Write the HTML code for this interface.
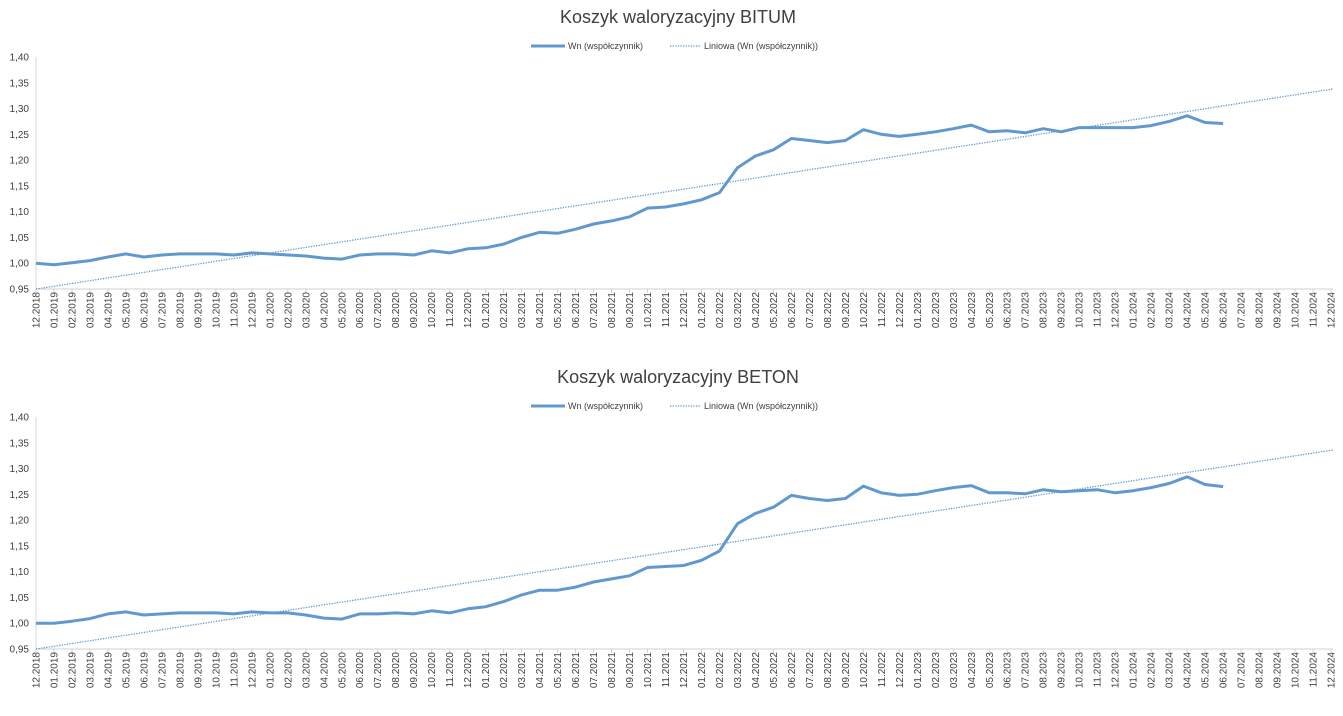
<!DOCTYPE html>
<html><head><meta charset="utf-8"><style>
html,body{margin:0;padding:0;background:#fff;width:1343px;height:716px;overflow:hidden}
svg{font-family:"Liberation Sans",sans-serif}
</style></head><body>
<svg id="s" width="1343" height="716" xmlns="http://www.w3.org/2000/svg"></svg>
<script>
const A=[1.000,0.997,1.001,1.005,1.012,1.018,1.012,1.016,1.018,1.018,1.018,1.016,1.020,1.018,1.016,1.014,1.010,1.008,1.016,1.018,1.018,1.016,1.024,1.020,1.028,1.030,1.037,1.050,1.060,1.058,1.066,1.076,1.082,1.090,1.107,1.109,1.115,1.123,1.137,1.185,1.208,1.220,1.242,1.238,1.234,1.238,1.259,1.250,1.246,1.250,1.255,1.261,1.268,1.255,1.257,1.253,1.261,1.255,1.263,1.263,1.263,1.263,1.267,1.275,1.286,1.273,1.271];
const B=[1.000,1.000,1.004,1.009,1.018,1.022,1.016,1.018,1.020,1.020,1.020,1.018,1.022,1.020,1.020,1.016,1.010,1.008,1.018,1.018,1.020,1.018,1.024,1.020,1.028,1.032,1.042,1.055,1.064,1.064,1.070,1.080,1.086,1.092,1.108,1.110,1.112,1.122,1.140,1.193,1.213,1.225,1.248,1.242,1.238,1.242,1.266,1.253,1.248,1.250,1.257,1.263,1.267,1.253,1.253,1.251,1.259,1.255,1.257,1.259,1.253,1.257,1.263,1.271,1.284,1.269,1.265];
let h='';
const C='#6199CE';
function chart(oy,title,d,tEnd){
 const X=i=>36+i*17.986, Y=v=>oy+57+(1.40-v)/0.45*232;
 h+=`<text x="678" y="${oy+23}" font-size="18" fill="#404040" text-anchor="middle">${title}</text>`;
 h+=`<line x1="531" y1="${oy+46}" x2="565" y2="${oy+46}" stroke="${C}" stroke-width="3"/>`;
 h+=`<text x="568" y="${oy+49}" font-size="9" fill="#404040">Wn (współczynnik)</text>`;
 h+=`<line x1="670" y1="${oy+46}" x2="701" y2="${oy+46}" stroke="${C}" stroke-width="1.3" stroke-dasharray="1.3 1.3"/>`;
 h+=`<text x="704" y="${oy+49}" font-size="9" fill="#404040">Liniowa (Wn (współczynnik))</text>`;
 for(let k=0;k<10;k++){const v=0.95+k*0.05;h+=`<text x="29" y="${Y(v)+3.5}" font-size="10" fill="#404040" text-anchor="end">${v.toFixed(2).replace('.',',')}</text>`;}
 h+=`<line x1="36" y1="${Y(1.4)}" x2="36" y2="${Y(0.95)}" stroke="#d9d9d9"/>`;
 h+=`<line x1="36" y1="${Y(0.95)}" x2="1333" y2="${Y(0.95)}" stroke="#d0d0d0"/>`;
 for(let i=0;i<73;i++){const x=X(i);h+=`<line x1="${x}" y1="${Y(0.95)}" x2="${x}" y2="${Y(0.95)+4}" stroke="#d0d0d0"/>`;
  const m=(i+11)%12+1, yr=2018+Math.floor((i+11)/12);
  h+=`<text transform="translate(${x+3.5},${Y(0.95)+3}) rotate(-90)" font-size="10" fill="#404040" text-anchor="end">${String(m).padStart(2,'0')}.${yr}</text>`;}
 h+=`<line x1="36" y1="${Y(0.95)}" x2="1333" y2="${Y(tEnd)}" stroke="${C}" stroke-width="1.3" stroke-dasharray="1.3 1.3"/>`;
 h+=`<polyline fill="none" stroke="${C}" stroke-width="3" stroke-linejoin="round" points="${d.map((v,i)=>X(i).toFixed(1)+','+Y(v).toFixed(1)).join(' ')}"/>`;
}
chart(0,'Koszyk waloryzacyjny BITUM',A,1.338);
chart(360,'Koszyk waloryzacyjny BETON',B,1.336);
document.getElementById('s').innerHTML=h;
</script>
</body></html>
